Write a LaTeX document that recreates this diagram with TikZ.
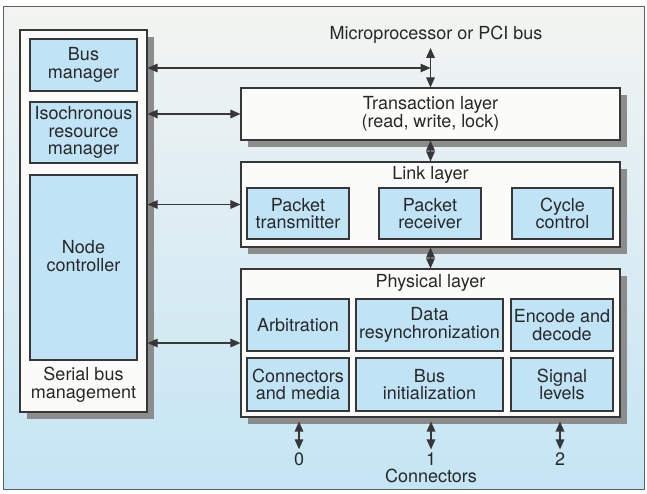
\documentclass[tikz,border=0pt]{standalone}
\usepackage{fontspec}
\setmainfont{TeX Gyre Heros}
\usetikzlibrary{arrows.meta, shadows}

\definecolor{linecol}{RGB}{55,55,55}
\definecolor{boxblue}{RGB}{192,228,246}
\definecolor{boxwhite}{RGB}{251,251,249}
\definecolor{bgtop}{RGB}{243,244,242}
\definecolor{bgmid}{RGB}{222,236,240}
\definecolor{bgbot}{RGB}{196,229,244}
\definecolor{shadowgray}{RGB}{140,140,140}
\definecolor{txtcol}{RGB}{40,40,40}

\tikzset{
  lbl/.style={text=txtcol, font=\fontsize{18}{17.6}\selectfont, align=center, inner sep=0pt},
  layerbox/.style={lbl, draw=linecol, line width=1.1pt, fill=boxwhite,
    drop shadow={shadow xshift=7pt, shadow yshift=-7pt, fill=shadowgray, opacity=1}},
  unitbox/.style={lbl, draw=linecol, line width=1.1pt, fill=boxblue},
  biarrow/.style={{Triangle[length=10pt,width=8.5pt]}-{Triangle[length=10pt,width=8.5pt]},
    draw=linecol, line width=1.4pt},
}

\begin{document}
\begin{tikzpicture}[x=1pt, y=-1pt]
\useasboundingbox (0,0) rectangle (647,493);
\fill[white] (0,0) rectangle (647,493);
\shade[top color=bgtop, middle color=bgmid, bottom color=bgbot] (3,6) rectangle (644,489);
\draw[linecol!80, line width=0.8pt] (3,6) rectangle (644,489);

% serial bus management
\node[layerbox, minimum width=127pt, minimum height=382pt] (sbm) at (83.5,221) {};
\node[unitbox, minimum width=107pt, minimum height=52pt] (busmgr) at (83.5,65) {Bus\\manager};
\node[unitbox, minimum width=107pt, minimum height=61pt] (iso) at (83.5,132.5) {Isochronous\\resource\\manager};
\node[unitbox, minimum width=107pt, minimum height=185pt] (nodectl) at (83.5,267.5) {};
\node[lbl] (nodectltxt) at (83.5,256) {Node\\controller};
\node[lbl] (sbmtxt) at (83.5,385) {Serial bus\\management};

% layers
\node[lbl] (mpci) at (436,35) {Microprocessor or PCI bus};
\node[layerbox, minimum width=379pt, minimum height=52pt] (trans) at (430.5,114) {Transaction layer\\(read, write, lock)};

\node[layerbox, minimum width=379pt, minimum height=85pt] (link) at (430.5,204.5) {};
\node[lbl] (linktxt) at (430.5,175) {Link layer};
\node[unitbox, minimum width=102pt, minimum height=51pt] (ptx) at (298,213.5) {Packet\\transmitter};
\node[unitbox, minimum width=102pt, minimum height=51pt] (prx) at (430,213.5) {Packet\\receiver};
\node[unitbox, minimum width=101pt, minimum height=51pt] (cyc) at (562.5,213.5) {Cycle\\control};

\node[layerbox, minimum width=379pt, minimum height=148pt] (phys) at (430.5,343) {};
\node[lbl] (phystxt) at (430.5,283) {Physical layer};
\node[unitbox, minimum width=102pt, minimum height=52pt] (arb) at (298,325) {Arbitration};
\node[unitbox, minimum width=147pt, minimum height=52pt] (resync) at (429.5,325) {Data\\resynchronization};
\node[unitbox, minimum width=102pt, minimum height=52pt] (enc) at (562,325) {Encode and\\decode};
\node[unitbox, minimum width=102pt, minimum height=53pt] (conn) at (298,384.5) {Connectors\\and media};
\node[unitbox, minimum width=147pt, minimum height=53pt] (businit) at (429.5,384.5) {Bus\\initialization};
\node[unitbox, minimum width=102pt, minimum height=53pt] (sig) at (562,384.5) {Signal\\levels};

\node[lbl] (c0) at (299,459) {0};
\node[lbl] (c1) at (431,459) {1};
\node[lbl] (c2) at (560,459) {2};
\node[lbl] (conlbl) at (431,476) {Connectors};

% connections
\coordinate (busj) at (trans.north |- 0,68);
\draw[biarrow] (sbm.east |- busj) -- (busj);
\draw[biarrow, shorten <=4pt] (trans.north |- mpci.south) -- (trans.north);
\draw[biarrow] (sbm.east |- trans.west) -- (trans.west);
\draw[biarrow] (sbm.east |- link.west) -- (link.west);
\draw[biarrow] (sbm.east |- phys.west) -- (phys.west);
\draw[biarrow] (trans.south) -- (link.north);
\draw[biarrow] (link.south) -- (phys.north);
\draw[biarrow, shorten <=4pt, shorten >=3pt] (phys.south -| c0) -- (c0.north);
\draw[biarrow, shorten <=4pt, shorten >=3pt] (phys.south -| c1) -- (c1.north);
\draw[biarrow, shorten <=4pt, shorten >=3pt] (phys.south -| c2) -- (c2.north);
\end{tikzpicture}
\end{document}
